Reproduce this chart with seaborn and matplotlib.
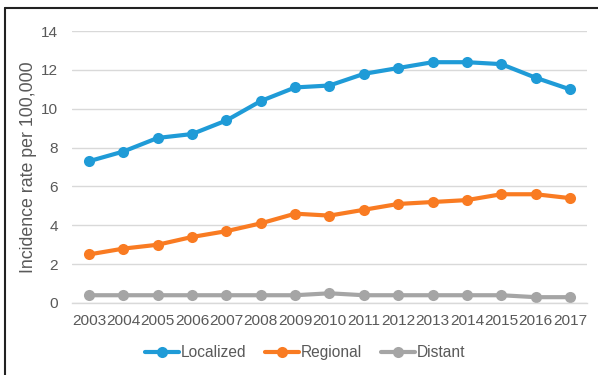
import matplotlib
matplotlib.use("Agg")
import matplotlib.pyplot as plt
import seaborn as sns
import pandas as pd
from matplotlib.lines import Line2D

years = [str(y) for y in range(2003, 2018)]
localized = [7.3, 7.8, 8.5, 8.7, 9.4, 10.4, 11.1, 11.2, 11.8, 12.1, 12.4, 12.4, 12.3, 11.6, 11.0]
regional = [2.5, 2.8, 3.0, 3.4, 3.7, 4.1, 4.6, 4.5, 4.8, 5.1, 5.2, 5.3, 5.6, 5.6, 5.4]
distant = [0.4, 0.4, 0.4, 0.4, 0.4, 0.4, 0.4, 0.5, 0.4, 0.4, 0.4, 0.4, 0.4, 0.3, 0.3]
series_names = ["Localized", "Regional", "Distant"]
colors = ["#1F9BD7", "#F97B22", "#A5A5A5"]

df = pd.DataFrame({"Year": years * 3,
                   "Rate": localized + regional + distant,
                   "Stage": [s for s in series_names for _ in years]})
df["x"] = df.groupby("Stage").cumcount()

sns.set_theme(style="white")
plt.rcParams["font.family"] = ["Liberation Sans", "DejaVu Sans"]

fig = plt.figure(figsize=(5.98, 3.75), dpi=100)
ax = fig.add_axes([0.120, 0.192, 0.862, 0.725])

sns.lineplot(data=df, x="x", y="Rate", hue="Stage", palette=colors,
             marker="o", markersize=8, markeredgewidth=0, linewidth=3,
             ax=ax, legend=False)

ax.set_xlim(-0.5, len(years) - 0.5)
ax.set_ylim(0, 14)
ax.set_yticks(range(0, 15, 2))
ax.set_xticks(range(len(years)))
ax.set_xticklabels(years)
ax.tick_params(axis="both", labelsize=11.1, labelcolor="#595959", length=0)
ax.tick_params(axis="x", pad=8)
ax.tick_params(axis="y", pad=10)
ax.yaxis.grid(True, color="#D9D9D9", linewidth=1)
ax.set_axisbelow(True)
for side in ["top", "right", "left"]:
    ax.spines[side].set_visible(False)
ax.spines["bottom"].set_color("#D9D9D9")
ax.spines["bottom"].set_linewidth(1)
ax.set_xlabel("")
ax.set_ylabel("Incidence rate per 100,000", fontsize=12.8, color="#595959", labelpad=3)

handles = [Line2D([0], [0], color=c, lw=3, marker="o", markersize=8, markeredgewidth=0)
           for c in colors]
fig.legend(handles, series_names, loc="center", bbox_to_anchor=(0.51, 0.06),
           ncol=3, frameon=False, fontsize=11.2, labelcolor="#595959",
           handlelength=2.2, handletextpad=0.1, columnspacing=1.2)

# chart frame edges
fig.add_artist(Line2D([0.008, 0.008], [0.0, 0.979], color="#222222", lw=1.5,
                      transform=fig.transFigure))
fig.add_artist(Line2D([0.008, 1.0], [0.979, 0.979], color="#222222", lw=1.5,
                      transform=fig.transFigure))

fig.savefig("out.png", dpi=100)
